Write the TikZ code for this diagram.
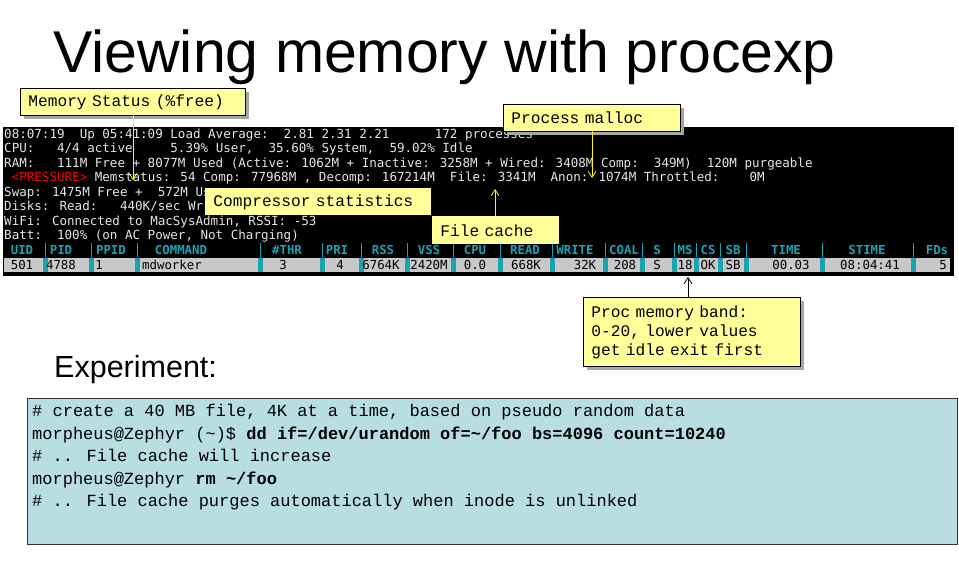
\documentclass[tikz,border=0pt]{standalone}
\usepackage{fontspec}
\setmainfont{Liberation Sans}
\newfontfamily\termfont{DejaVu Sans Mono}
\newfontfamily\callfont[WordSpace={1,0,0}]{Liberation Mono}
\newfontfamily\cmdfont{Liberation Mono}
\usetikzlibrary{arrows.meta}
\definecolor{callY}{HTML}{FFFF99}
\definecolor{termW}{HTML}{E6E6E6}
\definecolor{teal}{HTML}{1AA3B3}
\definecolor{boxB}{HTML}{B9DEE2}
\definecolor{rowG}{HTML}{C8C8C8}
\tikzset{
  term/.style={anchor=base west,inner sep=0,text=termW,font=\termfont\fontsize{12.55}{14}\selectfont},
  hdr/.style={anchor=base,inner sep=0,text=teal,font=\termfont\bfseries\fontsize{12.4}{14}\selectfont},
  cell/.style={anchor=base,inner sep=0,text=black,font=\termfont\fontsize{12.4}{14}\selectfont},
  callout/.style={fill=callY,draw=black,line width=0.8pt,inner sep=0,anchor=north west,font=\callfont\fontsize{16.2}{19}\selectfont,align=left},
  shadow/.style={fill=black!35},
  yarrow/.style={draw=yellow,line width=0.8pt,-{Straight Barb[length=6pt,width=8pt]}},
  barrow/.style={draw=black,line width=0.8pt,-{Straight Barb[length=6pt,width=8pt]}},
}
\begin{document}
\begin{tikzpicture}[x=1pt,y=-1pt]
\useasboundingbox (0,0) rectangle (959,579);
\node[anchor=base west,inner sep=0,font=\fontsize{59}{64}\selectfont] (title) at (53,72) {Viewing memory with procexp};
% terminal
\fill[black] (3,127) rectangle (954,276);
\node[term] (l1) at (4,138) {08:07:19~~Up 05:41:09 Load Average:~~2.81 2.31 2.21~~~~~~172 processes};
\node[term] (l2) at (4,152.5) {CPU:~~~4/4 active~~~~~5.39\% User,~~35.60\% System,~~59.02\% Idle};
\node[term] (l3) at (4,167) {RAM:~~~111M Free + 8077M Used (Active: 1062M + Inactive: 3258M + Wired: 3408M Comp:~~349M)~~120M purgeable};
\node[term] (l4) at (4,181.5) {~\textcolor{red}{<PRESSURE>} Memstatus: 54 Comp: 77968M , Decomp: 167214M~~File: 3341M~~Anon: 1074M Throttled:~~~~0M};
\node[term] (l5) at (4,196) {Swap: 1475M Free +~~572M Us};
\node[term] (l6) at (4,210.5) {Disks: Read:~~~440K/sec Wr};
\node[term] (l7) at (4,225) {WiFi: Connected to MacSysAdmin, RSSI: -53};
\node[term] (l8) at (4,239.5) {Batt:~~100\% (on AC Power, Not Charging)};
% header
\foreach \x/\t in {22/UID,61/PID,111/PPID,181/COMMAND,287/\#THR,337/PRI,383/RSS,429/VSS,475/CPU,525/READ,575/WRITE,624/COAL,657/S,685/MS,708/CS,733/SB,786/TIME,867/STIME,937/FDs}
  \node[hdr] at (\x,254) {\t};
\fill[rowG] (4,258) rectangle (950,272);
\foreach \x in {45,91,137,260,322,361,407,453,500,552,605,642,674,696,720,746,822,913}{
  \draw[teal,line width=1pt] (\x,243) -- (\x,257);
  \fill[teal] (\x-2.5,258) rectangle (\x+2.5,272);
}
\foreach \x/\t in {22/501,61/4788,99/1,172/mdworker,283/3,340/4,381/6764K,429/2420M,475/0.0,526/668K,585/32K,625/208,657/S,685/18,708/OK,733/SB,791/00.03,870/08:04:41,943/5}
  \node[cell] at (\x,269) {\t};
% callouts
\fill[shadow] (24,92) rectangle (249,119);
\node[callout,minimum width=225pt,minimum height=27pt,text width=209pt,inner xsep=8pt] (ms) at (20,88) {Memory Status (\%free)};
\coordinate (msT) at (133,180);
\draw[yarrow] (133,115) -- (msT);
\fill[shadow] (507,108) rectangle (684,135);
\node[callout,minimum width=177pt,minimum height=27pt,text width=161pt,inner xsep=8pt] (pm) at (503,104) {Process malloc};
\coordinate (pmT) at (592,178);
\draw[yarrow] (592,131) -- (pmT);
\node[callout,draw=none,minimum width=226pt,minimum height=27pt,text width=210pt,inner xsep=8pt] (cs) at (205,188) {Compressor statistics};
\node[callout,draw=none,minimum width=127pt,minimum height=28pt,text width=111pt,inner xsep=8pt] (fc) at (432,216) {File cache};
\coordinate (fcT) at (495,189);
\draw[yarrow] (495,216) -- (fcT);
\fill[shadow] (587,301) rectangle (804,370);
\node[callout,minimum width=217pt,minimum height=69pt,text width=201pt,inner xsep=8pt] (pb) at (583,297) {Proc memory band:\\0-20, lower values\\get idle exit first};
\coordinate (pbT) at (688,277);
\draw[barrow] (688,297) -- (pbT);
% experiment
\node[anchor=base west,inner sep=0,font=\fontsize{30.5}{34}\selectfont] (exp) at (54,377) {Experiment:};
\draw[fill=boxB,draw=black!80,line width=0.8pt] (27,398) rectangle (957,544);
\node[anchor=north west,inner sep=0,align=left,font=\cmdfont\fontsize{17}{22.5}\selectfont] (cmd) at (32,404) {\# create a 40 MB file, 4K at a time, based on pseudo random data\\
morpheus@Zephyr (\textasciitilde)\$ \textbf{dd if=/dev/urandom of=\textasciitilde/foo bs=4096 count=10240}\\
\# .. File cache will increase\\
morpheus@Zephyr \textbf{rm \textasciitilde/foo}\\
\# .. File cache purges automatically when inode is unlinked};
\end{tikzpicture}
\end{document}
